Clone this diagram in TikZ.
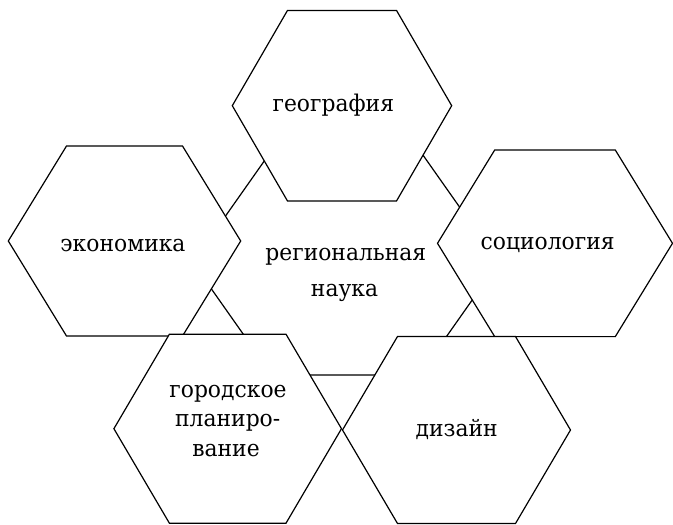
\documentclass[tikz,border=0pt]{standalone}
\usepackage{fontspec}
\setmainfont{DejaVu Serif}[FakeStretch=0.95]
\newcommand{\hexshape}[5]{%
  \filldraw[hexline] ({#1-#3},#2) -- ({#1-#4},{#2-#5}) -- ({#1+#4},{#2-#5}) -- ({#1+#3},#2) -- ({#1+#4},{#2+#5}) -- ({#1-#4},{#2+#5}) -- cycle;}
\begin{document}
\begin{tikzpicture}[x=1pt,y=-1pt,
  hexline/.style={draw=black,fill=white,line width=1.2pt,line join=miter},
  lbl/.style={anchor=base,inner sep=0pt,font=\fontsize{23}{28}\selectfont}]
\useasboundingbox (0,0) rectangle (673,525);
% central hexagon
\hexshape{345.7}{262.5}{152.9}{73.7}{112.5}
% surrounding hexagons
\hexshape{342}{105.7}{109.7}{54.5}{95.3}
\hexshape{124.5}{241}{116.2}{58}{95}
\hexshape{555}{243.3}{117.5}{60.3}{93.3}
\hexshape{227.7}{428.7}{113.8}{58.3}{94.5}
\hexshape{456.5}{430}{114}{59}{93.5}
% labels
\node[lbl] (geo) at (333.3,111.7) {география};
\node[lbl] (eco) at (123,251) {экономика};
\node[lbl] (reg1) at (345.8,260) {региональная};
\node[lbl] (reg2) at (344.5,296.7) {наука};
\node[lbl] (soc) at (547.7,249.3) {социология};
\node[lbl] (gor1) at (228,397.3) {городское};
\node[lbl] (gor2) at (227.7,426.7) {планиро-};
\node[lbl] (gor3) at (226,456) {вание};
\node[lbl] (diz) at (456.7,436.7) {дизайн};
\end{tikzpicture}
\end{document}
